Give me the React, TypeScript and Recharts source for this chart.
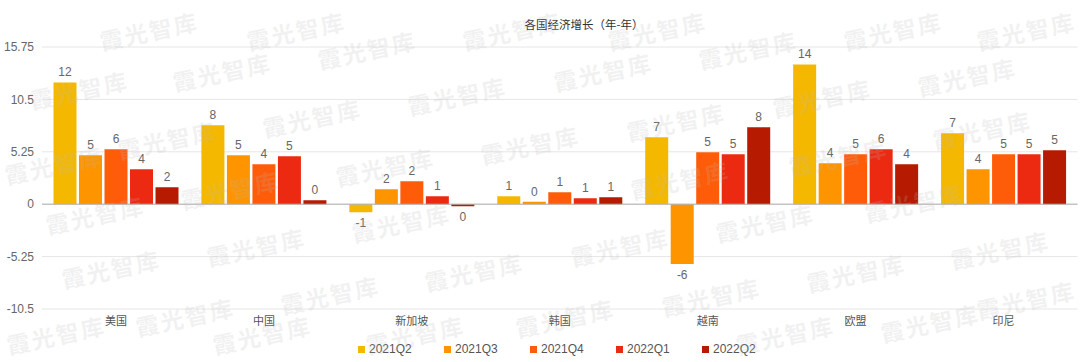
import { BarChart, Bar, XAxis, YAxis, CartesianGrid, ReferenceLine, Legend, LabelList } from 'recharts'

const categories = ['美国', '中国', '新加坡', '韩国', '越南', '欧盟', '印尼']
const seriesNames = ['2021Q2', '2021Q3', '2021Q4', '2022Q1', '2022Q2']
const seriesColors = ['#F5B800', '#FE9400', '#FF5C0A', '#EC2A12', '#B61A00']

// YoY growth
const y2021q2 = [12.2, 7.9, -0.8, 0.8, 6.7, 14.0, 7.1]
const y2021q3 = [4.9, 4.9, 1.5, 0.25, -6.0, 4.1, 3.5]
const y2021q4 = [5.5, 4.0, 2.3, 1.2, 5.2, 5.0, 5.0]
const y2022q1 = [3.5, 4.8, 0.8, 0.6, 5.0, 5.5, 5.0]
const y2022q2 = [1.7, 0.4, -0.2, 0.7, 7.7, 4.0, 5.4]

const yTicks = [-10.5, -5.25, 0, 5.25, 10.5, 15.75]

// watermark spots, nudged inside the frame
const watermarks: [number, number][] = [
  [296, 31], [149, 31], [79, 90], [222, 72], [367, 50], [512, 31],
  [54, 165], [167, 140], [312, 118], [457, 96], [230, 190], [385, 167], [530, 145],
  [95, 215], [401, 223], [256, 247], [111, 269], [474, 272], [330, 295], [185, 317],
  [56, 335], [415, 335], [262, 335],
  [657, 31], [893, 31], [1026, 31], [603, 72], [748, 50], [967, 77],
  [676, 122], [822, 98], [982, 130], [680, 180], [838, 157],
  [914, 203], [765, 223], [620, 247], [1000, 250], [856, 273], [711, 297],
  [1026, 300], [565, 318], [930, 323], [785, 335],
]

const seriesValues = [y2021q2, y2021q3, y2021q4, y2022q1, y2022q2]

const data = categories.map((name, i) => {
  const row: Record<string, string | number> = { name }
  seriesNames.forEach((s, k) => {
    row[s] = seriesValues[k][i]
  })
  return row
})

const font = '"Liberation Sans", Arial, "Noto Sans CJK SC", sans-serif'

const roundLabel = (v: any) => {
  const r = Math.round(Number(v))
  return r === 0 ? 0 : r
}

const renderLegend = (props: any) => {
  const { payload } = props
  return (
    <div style={{ display: 'flex', paddingLeft: 358, fontFamily: font }}>
      {(payload || []).map((p: any) => (
        <div key={p.value} style={{ display: 'flex', alignItems: 'center', width: 86 }}>
          <span style={{ width: 7, height: 7, background: p.color, marginRight: 4, display: 'inline-block' }} />
          <span style={{ fontSize: 12, color: '#555', lineHeight: '14px' }}>{p.value}</span>
        </div>
      ))}
    </div>
  )
}

export default function App() {
  return (
    <div style={{ position: 'absolute', left: 0, top: 0, width: 1080, height: 362, background: '#fff', overflow: 'hidden' }}>
      <div
        style={{
          position: 'absolute',
          left: 584,
          top: 17,
          transform: 'translateX(-50%)',
          fontSize: 11.5,
          lineHeight: '14px',
          color: '#333',
          fontFamily: '"Noto Sans CJK SC", sans-serif',
          whiteSpace: 'nowrap',
        }}
      >
        各国经济增长（年-年）
      </div>
      <BarChart
        width={1080}
        height={362}
        data={data}
        margin={{ top: 47, right: 2.5, bottom: 23, left: 0 }}
        barCategoryGap={11.5}
        barGap={2.5}
        style={{ fontFamily: font }}
      >
        <CartesianGrid vertical={false} stroke="#e6e6e6" />
        <XAxis
          dataKey="name"
          axisLine={false}
          tickLine={false}
          height={30}
          tick={{ fontSize: 11, fill: '#555', fontFamily: '"Noto Sans CJK SC", sans-serif' }}
          interval={0}
        />
        <YAxis
          width={42}
          domain={[-10.5, 15.75]}
          ticks={yTicks}
          axisLine={false}
          tickLine={false}
          tick={{ fontSize: 12, fill: '#666' }}
          allowDataOverflow
        />
        <ReferenceLine y={0} stroke="#b0b0b0" />
        <Legend
          layout="horizontal"
          verticalAlign="middle"
          align="center"
          content={renderLegend}
          wrapperStyle={{ top: 342, left: 0, width: 1080 }}
        />
        {seriesNames.map((s, k) => (
          <Bar key={s} dataKey={s} name={s} fill={seriesColors[k]} isAnimationActive={false}>
            <LabelList dataKey={s} position="top" offset={6} formatter={roundLabel} fill="#666" fontSize={12} />
          </Bar>
        ))}
      </BarChart>
      <div style={{ position: 'absolute', inset: 0, pointerEvents: 'none', zIndex: 2 }}>
        {watermarks.map(([x, y], i) => (
          <span
            key={i}
            style={{
              position: 'absolute',
              left: x,
              top: y,
              transform: 'translate(-50%, -50%) rotate(-12deg)',
              fontSize: 23,
              lineHeight: 1,
              letterSpacing: 2,
              fontWeight: 700,
              color: 'rgba(185,185,185,0.2)',
              fontFamily: '"Noto Sans CJK SC", sans-serif',
              whiteSpace: 'nowrap',
            }}
          >
            霞光智库
          </span>
        ))}
      </div>
    </div>
  )
}
